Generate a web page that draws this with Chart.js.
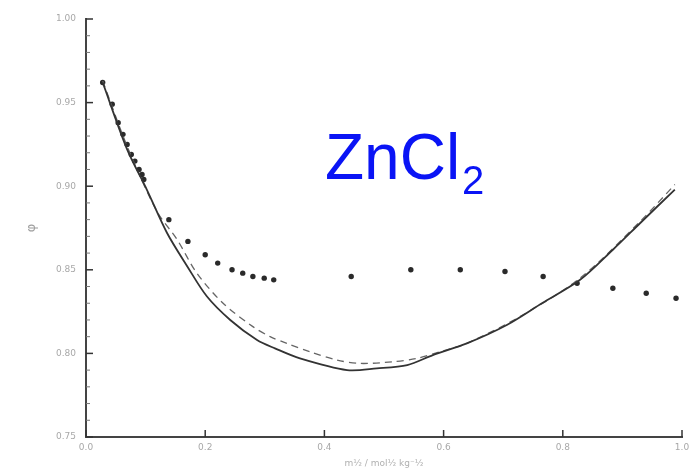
<!DOCTYPE html>
<html>
<head>
<meta charset="utf-8">
<script src="https://cdn.jsdelivr.net/npm/chart.js@4"></script>
<style>
    html, body { margin: 0; padding: 0; background: #fff; overflow: hidden; }
    #wrap { width: 689px; height: 469px; }
</style>
</head>
<body>
<div id="wrap"><canvas id="phiChart" width="689" height="469"></canvas></div>
<script>
// ZnCl2 osmotic coefficient chart

// Tick labels
const xTicks = [0.0, 0.2, 0.4, 0.6, 0.8, 1.0];
const yTicks = [0.75, 0.80, 0.85, 0.90, 0.95, 1.00];
const yMinor = [0.76, 0.77, 0.78, 0.79, 0.81, 0.82, 0.83, 0.84, 0.86, 0.87, 0.88, 0.89,
                0.91, 0.92, 0.93, 0.94, 0.96, 0.97, 0.98, 0.99];

// Experimental points
const pointsX = [0.028, 0.044, 0.054, 0.062, 0.069, 0.076, 0.082, 0.089, 0.094, 0.097,
                 0.139, 0.171, 0.200, 0.221, 0.245, 0.263, 0.280, 0.299, 0.315,
                 0.445, 0.545, 0.628, 0.703, 0.767, 0.824, 0.884, 0.940, 0.990];
const pointsY = [0.962, 0.949, 0.938, 0.931, 0.925, 0.919, 0.915, 0.910, 0.907, 0.904,
                 0.880, 0.867, 0.859, 0.854, 0.850, 0.848, 0.846, 0.845, 0.844,
                 0.846, 0.850, 0.850, 0.849, 0.846, 0.842, 0.839, 0.836, 0.833];

// Solid model curve
const solidX = [0.028, 0.069, 0.102, 0.136, 0.170, 0.203, 0.242, 0.287, 0.317,
                0.359, 0.438, 0.488, 0.539, 0.582, 0.639, 0.706, 0.765, 0.829, 0.884, 0.930, 0.988];
const solidY = [0.962, 0.922, 0.898, 0.872, 0.852, 0.834, 0.820, 0.808, 0.803,
                0.797, 0.790, 0.791, 0.793, 0.799, 0.806, 0.817, 0.830, 0.844, 0.862, 0.878, 0.898];

// Dashed model curve
const dashX = [0.028, 0.070, 0.119, 0.153, 0.186, 0.230, 0.280, 0.309, 0.337, 0.376,
               0.421, 0.460, 0.515, 0.555, 0.594, 0.639, 0.728, 0.829, 0.930, 0.988];
const dashY = [0.963, 0.923, 0.885, 0.868, 0.848, 0.830, 0.816, 0.810, 0.806, 0.801,
               0.796, 0.794, 0.795, 0.797, 0.801, 0.806, 0.822, 0.845, 0.879, 0.901];

const toXY = (xs, ys) => xs.map((v, i) => ({ x: v, y: ys[i] }));

// Inward ticks and the formula label
const overlayPlugin = {
    id: 'overlay',
    afterDatasetsDraw(chart) {
        const { ctx, scales: { x, y } } = chart;
        ctx.save();
        ctx.strokeStyle = '#333';
        ctx.lineWidth = 1.5;
        yTicks.forEach(v => {
            const py = y.getPixelForValue(v);
            ctx.beginPath(); ctx.moveTo(x.left, py); ctx.lineTo(x.left + 7, py); ctx.stroke();
        });
        xTicks.forEach(v => {
            const px = x.getPixelForValue(v);
            ctx.beginPath(); ctx.moveTo(px, y.bottom); ctx.lineTo(px, y.bottom - 7); ctx.stroke();
        });
        ctx.lineWidth = 1;
        ctx.strokeStyle = '#777';
        yMinor.forEach(v => {
            const py = y.getPixelForValue(v);
            ctx.beginPath(); ctx.moveTo(x.left, py); ctx.lineTo(x.left + 4, py); ctx.stroke();
        });

        // ZnCl2 label
        const lx = x.getPixelForValue(0.401);
        const ly = y.getPixelForValue(0.9043);
        ctx.fillStyle = 'rgb(10, 20, 245)';
        ctx.textBaseline = 'alphabetic';
        ctx.font = '64px "Liberation Sans", Arial, sans-serif';
        ctx.fillText('ZnCl', lx, ly);
        const w = ctx.measureText('ZnCl').width;
        ctx.font = '40px "Liberation Sans", Arial, sans-serif';
        ctx.fillText('2', lx + w + 2, ly + 15);
        ctx.restore();
    }
};

const ctx = document.getElementById('phiChart').getContext('2d');
const phiChart = new Chart(ctx, {
    type: 'scatter',
    data: {
        datasets: [
            {
                label: 'solid',
                data: toXY(solidX, solidY),
                showLine: true,
                borderColor: '#333',
                borderWidth: 1.8,
                pointRadius: 0,
                tension: 0.3
            },
            {
                label: 'dashed',
                data: toXY(dashX, dashY),
                showLine: true,
                borderColor: '#666',
                borderWidth: 1.3,
                borderDash: [7, 5],
                pointRadius: 0,
                tension: 0.3
            },
            {
                label: 'points',
                data: toXY(pointsX, pointsY),
                showLine: false,
                backgroundColor: '#2a2a2a',
                borderColor: '#2a2a2a',
                pointRadius: 2.7,
                pointBorderWidth: 0
            }
        ]
    },
    options: {
        responsive: false,
        animation: false,
        layout: { padding: { top: 19, right: 7, left: 0, bottom: 0 } },
        plugins: {
            legend: { display: false },
            tooltip: { enabled: false }
        },
        scales: {
            x: {
                type: 'linear',
                min: 0,
                max: 1,
                afterBuildTicks: axis => { axis.ticks = xTicks.map(v => ({ value: v })); },
                afterFit: axis => { axis.height = 32; axis.paddingRight = 0; axis.paddingLeft = 0; },
                ticks: {
                    callback: v => v.toFixed(1),
                    color: '#a8a8a8',
                    font: { size: 9, family: 'DejaVu Sans' },
                    padding: 5
                },
                grid: { display: true, drawOnChartArea: false, drawTicks: false, color: '#444' },
                border: { color: '#444', width: 2 },
                title: {
                    display: true,
                    text: 'm\u00BD / mol\u00BD kg\u207B\u00BD',
                    color: '#b0b0b0',
                    font: { size: 9, family: 'DejaVu Sans' },
                    padding: { top: 1, bottom: 0 }
                }
            },
            y: {
                type: 'linear',
                min: 0.75,
                max: 1.0,
                afterBuildTicks: axis => { axis.ticks = yTicks.map(v => ({ value: v })); },
                afterFit: axis => { axis.width = 86; axis.paddingTop = 0; axis.paddingBottom = 0; },
                ticks: {
                    callback: v => v.toFixed(2),
                    color: '#a8a8a8',
                    font: { size: 9, family: 'DejaVu Sans' },
                    padding: 10
                },
                grid: { display: true, drawOnChartArea: false, drawTicks: false, color: '#444' },
                border: { color: '#444', width: 2 },
                title: {
                    display: true,
                    text: '\u03C6',
                    color: '#a0a0a0',
                    font: { size: 13, family: 'DejaVu Sans' },
                    padding: { top: 24, bottom: 0 }
                }
            }
        }
    },
    plugins: [overlayPlugin]
});
</script>
</body>
</html>
